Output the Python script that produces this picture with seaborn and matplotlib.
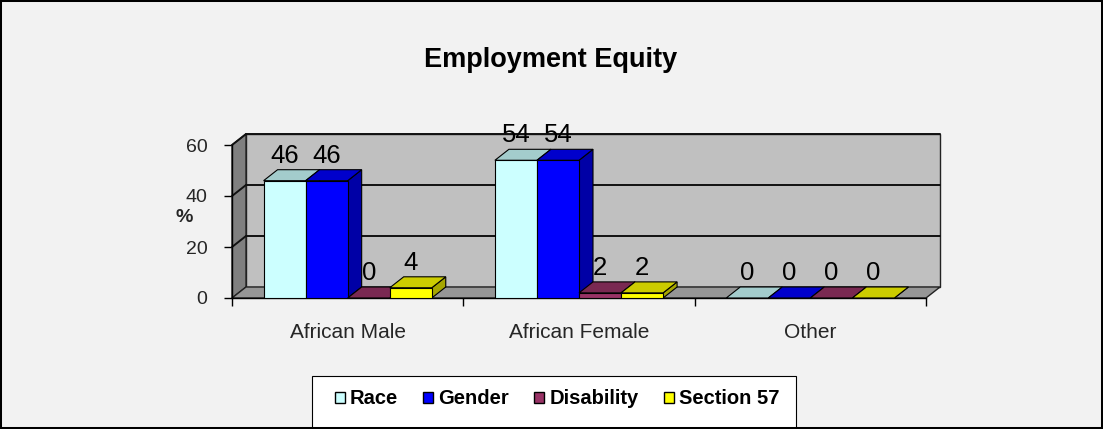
import numpy as np
import pandas as pd
import matplotlib
matplotlib.use("Agg")
import matplotlib.pyplot as plt
import seaborn as sns
from matplotlib.patches import Polygon, Rectangle
from matplotlib.lines import Line2D
from matplotlib.colors import to_rgb

# ---- data -------------------------------------------------------------
categories = ["African Male", "African Female", "Other"]
series = ["Race", "Gender", "Disability", "Section 57"]
race = [46, 54, 0]
gender = [46, 54, 0]
disability = [0, 2, 0]
section57 = [4, 2, 0]
y_ticks = [0, 20, 40, 60]

palette = ["#CCFFFF", "#0000FF", "#993366", "#FFFF00"]

rows = []
for name, vals in zip(series, [race, gender, disability, section57]):
    for cat, v in zip(categories, vals):
        rows.append({"Group": cat, "Series": name, "Value": v})
df = pd.DataFrame(rows)

# ---- style ------------------------------------------------------------
sns.set_style("ticks")
plt.rcParams["font.family"] = ["Liberation Sans", "DejaVu Sans"]
plt.rcParams["text.color"] = "black"

W, H = 1103, 429
fig = plt.figure(figsize=(W / 100, H / 100), dpi=100, facecolor="#F2F2F2")
ax = fig.add_axes([232 / W, 131 / H, 694 / W, 153 / H])
ax.patch.set_visible(False)

sns.barplot(data=df, x="Group", y="Value", hue="Series", order=categories,
            hue_order=series, palette=palette, saturation=1, width=0.727,
            gap=0, edgecolor="black", linewidth=0.8, errorbar=None, ax=ax)

ax.set_xlim(-0.5, 2.5)
ax.set_ylim(0, 60)

# depth offset of the 3-D look, in pixels
DX, DY = 14, 11


def back(x, y):
    d = ax.transData.transform((x, y)) + np.array([DX, DY])
    return tuple(ax.transData.inverted().transform(d))


def shade(c, f):
    r, g, b = to_rgb(c)
    return (r * f, g * f, b * f)


x0, x1 = ax.get_xlim()
ymax = y_ticks[-1]

# back wall
wall = Polygon([back(x0, 0), back(x1, 0), back(x1, ymax), back(x0, ymax)],
               closed=True, fc="#C0C0C0", ec="#222222", lw=1.0, zorder=0.5,
               clip_on=False)
ax.add_patch(wall)
# left side wall
side_wall = Polygon([(x0, 0), (x0, ymax), back(x0, ymax), back(x0, 0)],
                    closed=True, fc="#808080", ec="#222222", lw=1.0,
                    zorder=0.6, clip_on=False)
ax.add_patch(side_wall)
# floor
floor = Polygon([(x0, 0), (x1, 0), back(x1, 0), back(x0, 0)], closed=True,
                fc="#969696", ec="#222222", lw=1.0, zorder=0.7, clip_on=False)
ax.add_patch(floor)

# gridlines on the walls
for yv in y_ticks[1:]:
    bx0, by0 = back(x0, yv)
    bx1, by1 = back(x1, yv)
    ax.add_line(Line2D([bx0, bx1], [by0, by1], color="#111111", lw=1.4,
                       zorder=0.9, clip_on=False))
    ax.add_line(Line2D([x0, bx0], [yv, by0], color="#111111", lw=1.4,
                       zorder=0.9, clip_on=False))

# top and side faces of every bar
bars = sorted([p for cont in ax.containers for p in cont], key=lambda p: p.get_x())
for k, p in enumerate(bars):
    bx, bw, bh = p.get_x(), p.get_width(), p.get_height()
    fc = p.get_facecolor()
    base = 3 + 3 * k
    side = Polygon([(bx + bw, 0), (bx + bw, bh), back(bx + bw, bh), back(bx + bw, 0)],
                   closed=True, fc=shade(fc, 0.65), ec="black", lw=0.8,
                   zorder=base, clip_on=False)
    top = Polygon([(bx, bh), (bx + bw, bh), back(bx + bw, bh), back(bx, bh)],
                  closed=True, fc=shade(fc, 0.8), ec="black", lw=0.8,
                  zorder=base + 1, clip_on=False)
    ax.add_patch(side)
    ax.add_patch(top)
    p.set_zorder(base + 2)

# value labels
for cont in ax.containers:
    labels = ax.bar_label(cont, fmt="%g", padding=9.5, fontsize=18.5)
    for t in labels:
        t.set_zorder(200)

# ---- axes -------------------------------------------------------------
for s in ["top", "right"]:
    ax.spines[s].set_visible(False)
for s in ["left", "bottom"]:
    ax.spines[s].set_color("black")
    ax.spines[s].set_linewidth(1.0)
    ax.spines[s].set_zorder(2)

ax.set_yticks(y_ticks)
ax.tick_params(axis="y", direction="out", length=5.8, width=1.0, color="black",
               pad=12, labelsize=14)
ax.set_xticks(range(len(categories)))
ax.set_xticklabels(categories)
ax.tick_params(axis="x", which="major", length=0, pad=18, labelsize=15)
ax.set_xticks(np.arange(-0.5, len(categories), 1.0), minor=True)
ax.tick_params(axis="x", which="minor", direction="out", length=5.8,
               width=1.0, color="black")

ax.set_xlabel("")
ax.set_ylabel("%", rotation=0, fontsize=14, fontweight="bold",
              ha="center", va="center")
ax.yaxis.set_label_coords(-0.069, 0.523)

fig.text(551 / W, 1 - 60 / H, "Employment Equity", ha="center", va="center",
         fontsize=19.5, fontweight="bold")

# ---- legend -----------------------------------------------------------
sns.move_legend(ax, "center", bbox_to_anchor=(557 / W, 1 - 399 / H),
                bbox_transform=fig.transFigure, ncol=4, frameon=False,
                title=None, fontsize=14.5, handlelength=0.5, handleheight=0.5,
                handletextpad=0.25, columnspacing=1.25)
leg = ax.get_legend()
for t in leg.get_texts():
    t.set_fontweight("bold")
for h in leg.legend_handles:
    h.set_edgecolor("black")
    h.set_linewidth(1.0)

fig.add_artist(Rectangle((312 / W, -0.05), (796 - 312) / W, 0.05 + 53 / H,
                         transform=fig.transFigure, fc="white", ec="black",
                         lw=0.8, zorder=-1))

# outer frame
fig.add_artist(Rectangle((0, 0), 1, 1, transform=fig.transFigure, fill=False,
                         ec="black", lw=2.9, zorder=50))

fig.savefig("out.png", dpi=100, facecolor=fig.get_facecolor())
